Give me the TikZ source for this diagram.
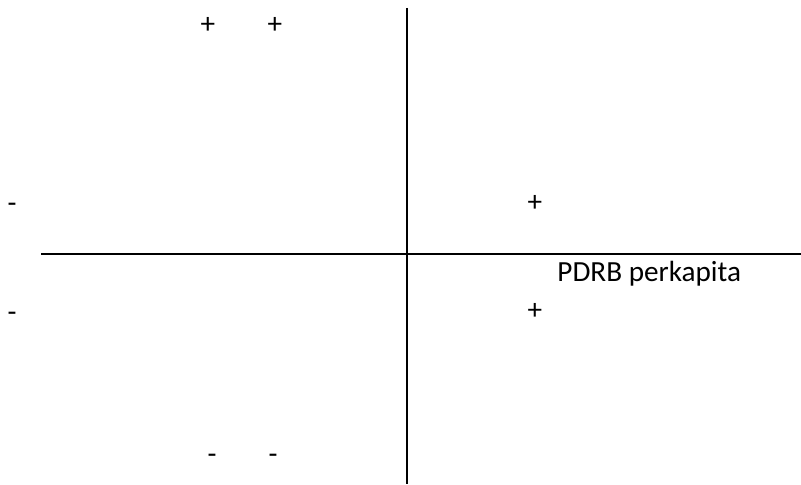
\documentclass[tikz,border=0pt]{standalone}
\usepackage{fontspec}
\setmainfont{Carlito}
\usepackage{tikz}
\usetikzlibrary{positioning}

\tikzset{
	sign/.style={inner sep=0pt, anchor=base, font=\fontsize{14.6}{17.5}\selectfont},
	axis/.style={line width=1pt, black}
}

\begin{document}
\begin{tikzpicture}[x=0.5pt, y=-0.5pt]
				\useasboundingbox (0,0) rectangle (801,485);
				\coordinate (vtop) at (407,8);
				\coordinate (vbot) at (407,484);
				\coordinate (hleft) at (41,254);
				\coordinate (hright) at (801,254);
				\draw[axis] (vtop) -- (vbot);
				\draw[axis] (hleft) -- (hright);
				\node[sign] (tl) at (208,33.5) {+};
				\node[sign] (tr) at (275,33.5) {+};
				\node[sign] (ml) at (12,213) {-};
				\node[sign] (mr) at (535,211.5) {+};
				\node[sign] (nl) at (12,322) {-};
				\node[sign] (nr) at (535,319.5) {+};
				\node[sign] (bl) at (212,463.5) {-};
				\node[sign] (br) at (273,463.5) {-};
				\node[sign, anchor=base west] (label) at (557,282) {PDRB perkapita};
			\end{tikzpicture}
\end{document}
